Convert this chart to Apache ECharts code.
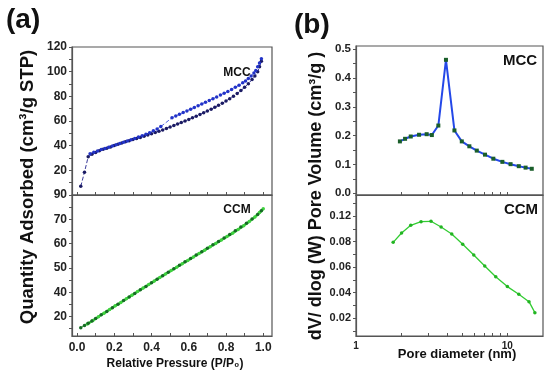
<!DOCTYPE html>
<html><head><meta charset="utf-8">
<script src="https://cdn.jsdelivr.net/npm/echarts@6/dist/echarts.min.js"></script>
<style>html,body{margin:0;padding:0;background:#fff}#c{width:550px;height:377px}</style>
</head><body><div id="c"></div>
<script>
// ---- (a) N2 isotherm, MCC ----
const mccAdsP = [0.02,0.04,0.06,0.08,0.10,0.12,0.14,0.16,0.18,0.20,0.22,0.24,0.26,0.28,0.30,0.32,0.34,0.36,0.38,0.40,0.42,0.44,0.46,0.48,0.50,0.52,0.54,0.56,0.58,0.60,0.62,0.64,0.66,0.68,0.70,0.72,0.74,0.76,0.78,0.80,0.82,0.84,0.86,0.88,0.90,0.92,0.94,0.955,0.97,0.98,0.99];
const mccAdsQ = [7,18.5,31,33,34.5,35.8,37,38,39,40.2,41.2,42.2,43.1,44,44.9,45.8,46.7,47.6,48.6,49.6,50.6,51.7,52.8,54,55.2,56.4,57.6,58.8,60,61.3,62.6,63.9,65.3,66.7,68.1,69.6,71.1,72.7,74.4,76.2,78.1,80.1,82.3,84.7,87.3,90.3,93.6,96.5,100,104,108.5];
const mccDesP = [0.99,0.98,0.97,0.96,0.95,0.935,0.92,0.905,0.89,0.87,0.85,0.83,0.81,0.79,0.77,0.75,0.73,0.71,0.69,0.67,0.65,0.63,0.61,0.59,0.57,0.55,0.53,0.51,0.45,0.43,0.41,0.39,0.37,0.35,0.33,0.31,0.29,0.27,0.25,0.23,0.21,0.19,0.17,0.15,0.13,0.11,0.09,0.07];
const mccDesQ = [110.5,107,104,101,99,96.5,94.5,92.5,91,89,87.3,85.6,84,82.5,81,79.5,78,76.6,75.2,73.8,72.4,71,69.6,68.2,66.8,65.4,64,62.6,55.5,53.5,52,50.5,49.3,48,47,45.8,44.8,43.8,42.8,41.8,40.8,39.8,38.8,37.8,36.8,35.7,34.6,33.4];
// ---- (a) N2 isotherm, CCM ----
const ccmAdsP = [0.02,0.04,0.06,0.08,0.10,0.13,0.16,0.19,0.22,0.25,0.28,0.31,0.34,0.37,0.40,0.43,0.46,0.49,0.52,0.55,0.58,0.61,0.64,0.67,0.70,0.73,0.76,0.79,0.82,0.85,0.88,0.91,0.94,0.97,0.99];
const ccmAdsQ = [25.4,26.3,27.2,28.2,29.2,30.7,32.1,33.6,35.1,36.6,38,39.5,41,42.4,43.9,45.3,46.8,48.2,49.7,51.1,52.5,53.9,55.3,56.7,58.1,59.5,60.9,62.3,63.8,65.3,66.8,68.4,70.1,72,73.5];
const ccmDesP = [1.0,0.98,0.955,0.925,0.895,0.865,0.835,0.805,0.775,0.745,0.715,0.685,0.655,0.625,0.595,0.565,0.535,0.505,0.475,0.445,0.415,0.385,0.355,0.325,0.295,0.265,0.235,0.205,0.175,0.145,0.115,0.085,0.055];
const ccmDesQ = [74.3,72.8,70.9,69.1,67.4,65.8,64.3,62.9,61.5,60.1,58.7,57.3,55.9,54.5,53.1,51.7,50.3,48.9,47.5,46.1,44.6,43.2,41.7,40.3,38.8,37.3,35.8,34.4,32.9,31.4,29.9,28.4,26.9];
// ---- (b) pore size distribution ----
const mccPsdD = [1.95,2.11,2.30,2.61,2.93,3.17,3.50,3.93,4.47,5.00,5.61,6.28,7.12,8.08,9.27,10.5,11.9,13.2,14.5];
const mccPsdV = [0.180,0.189,0.197,0.203,0.205,0.202,0.235,0.463,0.218,0.180,0.163,0.148,0.134,0.120,0.109,0.101,0.094,0.089,0.085];
const ccmPsdD = [1.76,2.00,2.30,2.69,3.13,3.65,4.29,5.07,6.00,7.09,8.38,10.0,11.9,13.9,15.2];
const ccmPsdV = [0.0795,0.0868,0.0928,0.0957,0.096,0.0915,0.086,0.078,0.0696,0.061,0.0526,0.0448,0.0388,0.033,0.0244];
// ---- tick labels (as printed) ----
const pressureTicks = [0,0.2,0.4,0.6,0.8,1.0];
const pressureTickLabels = ['0.0','0.2','0.4','0.6','0.8','1.0'];
const mccIsoTicks = [20,40,60,80,100,120];
const mccIsoTickLabels = ['20','40','60','80','100','120'];
const ccmIsoTicks = [30,40,50,60,70,80];
const ccmIsoTickLabels = ['20','40','50','60','70','90'];
const mccPsdTicks = [0,0.1,0.2,0.3,0.4,0.5];
const mccPsdTickLabels = ['0.0','0.1','0.2','0.3','0.4','0.5'];
const ccmPsdTicks = [0.02,0.04,0.06,0.08,0.10];
const ccmPsdTickLabels = ['0.02','0.04','0.06','0.08','0.12'];
const diamTicks = [1,10];
const diamTickLabels = ['1','10'];
const diamMinorTicks = [1,2,3,4,5,6,7,8,9,10];

function zip(a,b){return a.map((v,i)=>[v,b[i]]);}
function lab(ticks,labels){return v=>{const i=ticks.findIndex(t=>Math.abs(t-v)<1e-9);return i<0?'':labels[i];};}

const AX = '#555';
const FONT = 'Liberation Sans, Arial, sans-serif';
const chart = echarts.init(document.getElementById('c'));
const gridBase = {show:true,borderColor:AX,borderWidth:1.2,backgroundColor:'transparent'};
const axisLine = {show:true,onZero:false,lineStyle:{color:AX,width:1.2}};
function yAxis(grid,min,max,ticks,labels,minor,size){
  return {type:'value',gridIndex:grid,min:min,max:max,splitLine:{show:false},axisLine:axisLine,
    axisTick:{show:true,length:3,lineStyle:{color:AX},customValues:minor},
    axisLabel:{show:true,customValues:ticks,formatter:lab(ticks,labels),margin:5,
      fontFamily:FONT,fontWeight:'bold',fontSize:size,color:'#222'}};
}
chart.setOption({
  animation:false,
  backgroundColor:'#fff',
  grid:[
    Object.assign({left:72,top:47,width:200,height:148},gridBase),
    Object.assign({left:72,top:195,width:200,height:141},gridBase),
    Object.assign({left:356,top:46,width:187,height:149},gridBase),
    Object.assign({left:356,top:195,width:187,height:141},gridBase)
  ],
  xAxis:[
    {type:'value',gridIndex:0,min:-0.027,max:1.047,splitLine:{show:false},axisLine:axisLine,
     axisTick:{show:true,inside:true,length:3,lineStyle:{color:AX},customValues:[0,0.1,0.2,0.3,0.4,0.5,0.6,0.7,0.8,0.9,1.0]},
     axisLabel:{show:false}},
    {type:'value',gridIndex:1,min:-0.027,max:1.047,splitLine:{show:false},axisLine:axisLine,
     axisTick:{show:true,inside:true,length:3,lineStyle:{color:AX},customValues:[0,0.1,0.2,0.3,0.4,0.5,0.6,0.7,0.8,0.9,1.0]},
     axisLabel:{show:true,customValues:pressureTicks,formatter:lab(pressureTicks,pressureTickLabels),margin:6,
       fontFamily:FONT,fontWeight:'bold',fontSize:12,color:'#222'}},
    {type:'log',logBase:10,gridIndex:2,min:1,max:17.2,splitLine:{show:false},axisLine:axisLine,
     axisTick:{show:true,inside:true,length:3,lineStyle:{color:AX},customValues:diamMinorTicks},
     axisLabel:{show:false}},
    {type:'log',logBase:10,gridIndex:3,min:1,max:17.2,splitLine:{show:false},axisLine:axisLine,
     axisTick:{show:true,inside:true,length:3,lineStyle:{color:AX},customValues:diamMinorTicks},
     axisLabel:{show:true,customValues:diamTicks,formatter:lab(diamTicks,diamTickLabels),margin:5,
       fontFamily:FONT,fontWeight:'bold',fontSize:10,color:'#222'}}
  ],
  yAxis:[
    yAxis(0,0,120,mccIsoTicks,mccIsoTickLabels,[10,20,30,40,50,60,70,80,90,100,110,120],12),
    yAxis(1,22,80,ccmIsoTicks,ccmIsoTickLabels,[25,30,35,40,45,50,55,60,65,70,75,80],12),
    yAxis(2,-0.006,0.511,mccPsdTicks,mccPsdTickLabels,[0,0.05,0.1,0.15,0.2,0.25,0.3,0.35,0.4,0.45,0.5],11.5),
    yAxis(3,0.0061,0.1166,ccmPsdTicks,ccmPsdTickLabels,[0.01,0.02,0.03,0.04,0.05,0.06,0.07,0.08,0.09,0.10,0.11],11)
  ],
  series:[
    {type:'line',xAxisIndex:0,yAxisIndex:0,data:zip(mccAdsP,mccAdsQ),symbol:'circle',symbolSize:3.5,
     itemStyle:{color:'#1b1b63'},lineStyle:{color:'#3a3a9a',width:1,type:'dashed'}},
    {type:'line',xAxisIndex:0,yAxisIndex:0,data:zip(mccDesP,mccDesQ),symbol:'circle',symbolSize:3.5,
     itemStyle:{color:'#2233c8'},lineStyle:{color:'#4d5fe0',width:1,type:'dashed'}},
    {type:'line',xAxisIndex:1,yAxisIndex:1,data:zip(ccmDesP,ccmDesQ),symbol:'circle',symbolSize:3.5,
     itemStyle:{color:'#3fd23f'},lineStyle:{color:'#44d644',width:2.5}},
    {type:'line',xAxisIndex:1,yAxisIndex:1,data:zip(ccmAdsP,ccmAdsQ),symbol:'circle',symbolSize:3.5,
     itemStyle:{color:'#166b25'},lineStyle:{color:'#2aa82a',width:1}},
    {type:'line',xAxisIndex:2,yAxisIndex:2,data:zip(mccPsdD,mccPsdV),symbol:'rect',symbolSize:4,
     itemStyle:{color:'#1a5e2a'},lineStyle:{color:'#2448e8',width:2}},
    {type:'line',xAxisIndex:3,yAxisIndex:3,data:zip(ccmPsdD,ccmPsdV),symbol:'circle',symbolSize:3.5,
     itemStyle:{color:'#22b422'},lineStyle:{color:'#33cc33',width:1.3}}
  ],
  graphic:[
    {type:'text',left:6,top:6,style:{text:'(a)',font:'bold 28px '+FONT,fill:'#111'}},
    {type:'text',left:294,top:11,style:{text:'(b)',font:'bold 28px '+FONT,fill:'#111'}},
    {type:'text',x:237,y:73,style:{text:'MCC',font:'bold 12px '+FONT,fill:'#111',align:'center',verticalAlign:'middle'}},
    {type:'text',x:237,y:210,style:{text:'CCM',font:'bold 12px '+FONT,fill:'#111',align:'center',verticalAlign:'middle'}},
    {type:'text',x:520,y:61,style:{text:'MCC',font:'bold 15px '+FONT,fill:'#111',align:'center',verticalAlign:'middle'}},
    {type:'text',x:521,y:210,style:{text:'CCM',font:'bold 15px '+FONT,fill:'#111',align:'center',verticalAlign:'middle'}},
    {type:'text',x:28,y:187,rotation:Math.PI/2,style:{text:'Quantity Adsorbed (cm\u00B3/g STP)',font:'bold 18.5px '+FONT,fill:'#111',align:'center',verticalAlign:'middle'}},
    {type:'text',x:316,y:196,rotation:Math.PI/2,style:{text:'dV/ dlog (W) Pore Volume (cm\u00B3/g )',font:'bold 18px '+FONT,fill:'#111',align:'center',verticalAlign:'middle'}},
    {type:'text',x:175,y:364,style:{text:'Relative Pressure (P/P\u2080)',font:'bold 12px '+FONT,fill:'#111',align:'center',verticalAlign:'middle'}},
    {type:'text',x:457,y:354,style:{text:'Pore diameter (nm)',font:'bold 13px '+FONT,fill:'#111',align:'center',verticalAlign:'middle'}}
  ]
});
</script></body></html>
